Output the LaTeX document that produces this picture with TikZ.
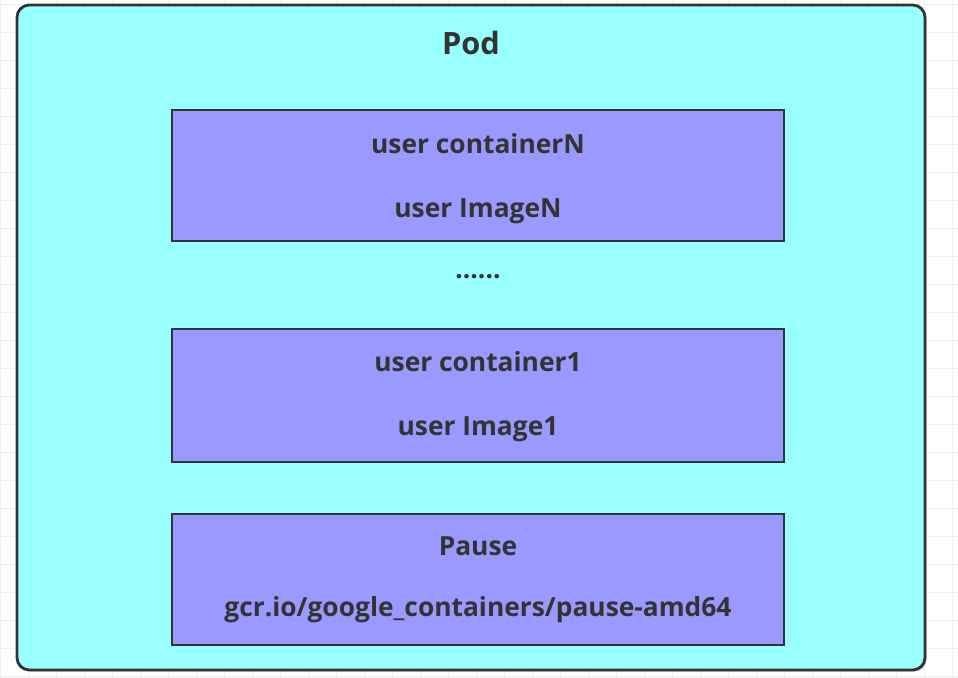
\documentclass[tikz,border=0pt]{standalone}
\usepackage{fontspec}
\setmainfont{Open Sans}[BoldFont={* Bold}]
\usepackage{tikz}
\usetikzlibrary{positioning,shadows}
\definecolor{dark}{RGB}{51, 51, 51}
\definecolor{podfill}{RGB}{153, 255, 255}
\definecolor{boxfill}{RGB}{153, 153, 255}

\begin{document}
\begin{tikzpicture}[x=0.02cm, y=-0.02cm,
    pod/.style={rectangle, rounded corners=7pt, draw=dark, line width=1.6pt,
        fill=podfill, drop shadow={shadow xshift=1pt, shadow yshift=-1pt, opacity=0.3}},
    container/.style={rectangle, draw=dark, line width=1.4pt, fill=boxfill},
    label/.style={font=\bfseries\fontsize{15}{17}\selectfont, text=dark},
    title/.style={label, font=\bfseries\fontsize{17.5}{20}\selectfont}
]

\useasboundingbox (0,0) rectangle (958,678);
% background grid
\foreach \x in {0,28,...,958} {
    \draw[black!6, line width=0.5pt] (\x,0) -- (\x,678);
}
\foreach \y in {4,32,...,678} {
    \draw[black!6, line width=0.5pt] (0,\y) -- (958,\y);
}

\draw[pod] (17,5) rectangle (925,670);
\node[title] (podtitle) at (471,43) {Pod};

\draw[container] (172,110) rectangle (784,241);
\node[label] (nameN) at (478,144) {user containerN};
\node[label] (imageN) at (478,211) {user ImageN};

\node[label] (dots) at (478,277) {......};

\draw[container] (172,329) rectangle (784,462);
\node[label] (name1) at (478,362) {user container1};
\node[label] (image1) at (478,429) {user Image1};

\draw[container] (172,514) rectangle (784,645);
\node[label] (pause) at (478,546) {Pause};
\node[label] (pauseimage) at (478,610) {gcr.io/google\_containers/pause-amd64};

\end{tikzpicture}
\end{document}
